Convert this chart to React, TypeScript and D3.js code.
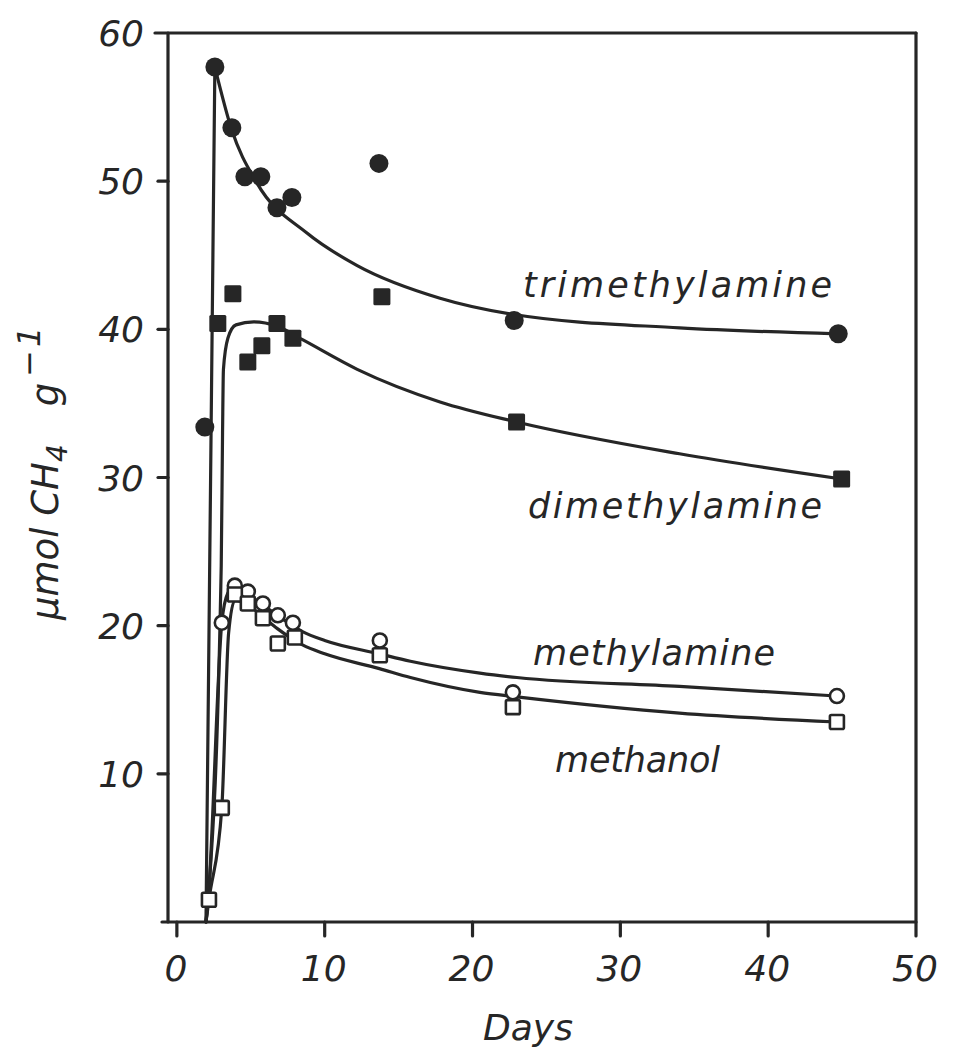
import React from "react";
import * as d3 from "d3";

type Pt = [number, number];

// Axis ticks
const X_TICKS = [0, 10, 20, 30, 40, 50];
const Y_TICKS = [10, 20, 30, 40, 50, 60];

// Measured methane (day, µmol CH4 per g)
const trimethylaminePoints: Pt[] = [
  [1.89, 33.4], [2.57, 57.7], [3.72, 53.6], [4.6, 50.3], [5.68, 50.3],
  [6.77, 48.2], [7.78, 48.9], [13.67, 51.2], [22.82, 40.6], [44.74, 39.7],
];
const dimethylaminePoints: Pt[] = [
  [2.77, 40.4], [3.79, 42.4], [4.8, 37.8], [5.75, 38.9], [6.77, 40.4],
  [7.85, 39.4], [13.87, 42.2], [22.98, 33.75], [44.97, 29.9],
];
const methylaminePoints: Pt[] = [
  [3.04, 20.2], [3.92, 22.7], [4.8, 22.3], [5.82, 21.5], [6.83, 20.7],
  [7.85, 20.2], [13.73, 19.0], [22.73, 15.5], [44.65, 15.25],
];
const methanolPoints: Pt[] = [
  [2.17, 1.5], [3.04, 7.7], [3.92, 22.1], [4.8, 21.5], [5.82, 20.5],
  [6.83, 18.8], [7.98, 19.2], [13.73, 18.0], [22.73, 14.5], [44.65, 13.5],
];

// Fitted curves
const trimethylamineRise: Pt[] = [[1.97, 0], [2.57, 57.7]];
const trimethylamineDecay: Pt[] = [
  [2.57, 57.7], [3.7, 53.5], [5.4, 49.9], [8.8, 46.5], [12.2, 44.3],
  [17.8, 42.1], [22.8, 41.0], [34, 40.1], [44.74, 39.7],
];
const dimethylamineFit: Pt[] = [
  [1.97, 0], [2.15, 2], [3.0, 24], [3.09, 33], [3.15, 37.3], [3.45, 39.4], [4.0, 40.3],
  [5.2, 40.5], [6.8, 40.2], [8.5, 39.3], [12.2, 37.3], [17.8, 35.1],
  [22.98, 33.75], [34, 31.6], [44.97, 29.9],
];
const methylamineFit: Pt[] = [
  [1.97, 0], [2.15, 2], [3.04, 20.2], [3.45, 22.2], [3.85, 22.6], [4.8, 22.1],
  [5.8, 21.4], [6.8, 20.7], [8.5, 19.6], [10, 19.0], [13.7, 18.1], [15.8, 17.6],
  [20.5, 16.8], [23, 16.5], [34, 15.9], [44.65, 15.25],
];
const methanolFit: Pt[] = [
  [1.97, 0], [2.17, 1.5], [3.04, 7.7], [3.5, 19.5], [3.92, 21.7], [4.8, 21.4],
  [5.8, 20.6], [6.8, 19.8], [8.5, 18.7], [10, 18.1], [13.7, 17.1], [15.8, 16.5],
  [20.5, 15.5], [23, 15.2], [34, 14.1], [44.65, 13.5],
];

const SERIES_LABELS = ["trimethylamine", "dimethylamine", "methylamine", "methanol"];

const INK = "#262626";
const FONT = "'DejaVu Sans', 'Liberation Sans', sans-serif";

export default function App() {
  const W = 955;
  const H = 1057;
  const x = d3.scaleLinear().domain([-0.6, 50]).range([168, 916]);
  const y = d3.scaleLinear().domain([0, 60]).range([922, 33]);
  const [x0, x1] = x.range();
  const [yb, yt] = y.range();

  const smooth = d3.line<Pt>().x((d) => x(d[0])).y((d) => y(d[1])).curve(d3.curveMonotoneX);
  const straight = d3.line<Pt>().x((d) => x(d[0])).y((d) => y(d[1]));

  const curves = [
    straight(trimethylamineRise),
    smooth(trimethylamineDecay),
    smooth(dimethylamineFit),
    smooth(methylamineFit),
    smooth(methanolFit),
  ];

  const tickLen = 12;

  // label placements: [text start x, baseline y, width]
  const labelPos: [number, number, number][] = [
    [523, 297, 309],
    [528, 518, 294],
    [533, 665, 242],
    [555, 772, 165],
  ];

  return (
    <svg
      width={W}
      height={H}
      style={{ position: "absolute", left: 0, top: 0, background: "#fff" }}
      fontFamily={FONT}
    >
      <rect width={W} height={H} fill="#fff" />
      {/* frame */}
      <g stroke={INK} strokeWidth={3.2} fill="none" strokeLinecap="round">
        <line x1={x0} y1={yt} x2={x0} y2={yb} />
        <line x1={x0 - 13} y1={yt} x2={x1} y2={yt} />
        <line x1={x1} y1={yt} x2={x1} y2={yb + tickLen + 2} />
        <line x1={x0 - 6} y1={yb} x2={x1} y2={yb} />
        {Y_TICKS.filter((t) => t < 60).map((t) => (
          <line key={t} x1={x0 - 10} y1={y(t)} x2={x0} y2={y(t)} />
        ))}
        {X_TICKS.filter((t) => t < 50).map((t) => (
          <line key={t} x1={x(t)} y1={yb} x2={x(t)} y2={yb + tickLen + 2} />
        ))}
      </g>

      {/* tick labels */}
      <g fill={INK} fontSize={36} fontStyle="italic">
        {Y_TICKS.map((t) => (
          <text key={t} x={x0 - 24} y={y(t) + 13} textAnchor="end">
            {t}
          </text>
        ))}
        {X_TICKS.map((t) => (
          <text key={t} x={x(t) - 1} y={981} textAnchor="middle">
            {t}
          </text>
        ))}
        <text x={528} y={1040} textAnchor="middle">
          Days
        </text>
        <text transform="translate(58,620) rotate(-90)" fontSize={37}>
          <tspan>µmol CH</tspan>
          <tspan dy={9} fontSize={28}>4</tspan>
          <tspan dy={-9} dx={38}>g</tspan>
          <tspan dy={-18} dx={6} fontSize={32} letterSpacing={3}>−1</tspan>
        </text>
      </g>

      {/* fitted curves */}
      <g fill="none" stroke={INK} strokeWidth={3.2} strokeLinejoin="round" strokeLinecap="round">
        {curves.map((d, i) => (
          <path key={i} d={d ?? ""} />
        ))}
      </g>

      {/* measured points */}
      <g>
        {trimethylaminePoints.map((d, i) => (
          <circle key={i} cx={x(d[0])} cy={y(d[1])} r={9.5} fill={INK} />
        ))}
        {dimethylaminePoints.map((d, i) => (
          <rect key={i} x={x(d[0]) - 8.5} y={y(d[1]) - 8.5} width={17} height={17} rx={1.5} fill={INK} />
        ))}
        {methylaminePoints.map((d, i) => (
          <circle key={i} cx={x(d[0])} cy={y(d[1])} r={7} fill="#fff" stroke={INK} strokeWidth={2.6} />
        ))}
        {methanolPoints.map((d, i) => (
          <rect
            key={i}
            x={x(d[0]) - 7}
            y={y(d[1]) - 7}
            width={14}
            height={14}
            rx={1.5}
            fill="#fff"
            stroke={INK}
            strokeWidth={2.6}
          />
        ))}
      </g>

      {/* series labels */}
      <g fill={INK} fontSize={35} fontStyle="italic">
        {SERIES_LABELS.map((s, i) => (
          <text
            key={s}
            x={labelPos[i][0]}
            y={labelPos[i][1]}
            textLength={labelPos[i][2]}
            lengthAdjust="spacing"
          >
            {s}
          </text>
        ))}
      </g>
    </svg>
  );
}
